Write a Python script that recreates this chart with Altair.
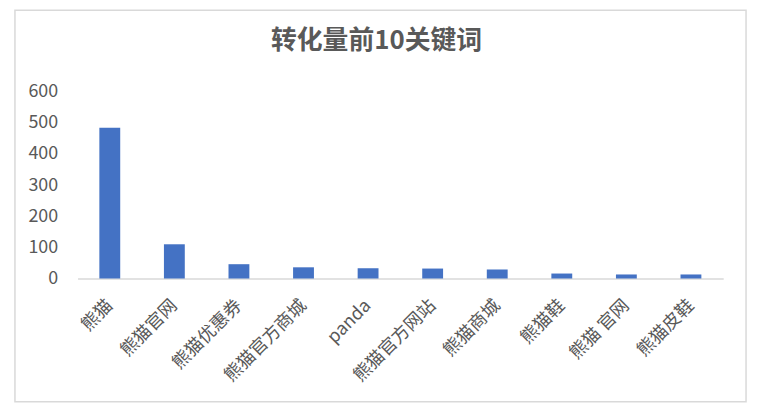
import altair as alt
import pandas as pd

keywords = ["熊猫", "熊猫官网", "熊猫优惠券", "熊猫官方商城", "panda",
            "熊猫官方网站", "熊猫商城", "熊猫鞋", "熊猫 官网", "熊猫皮鞋"]
conversions = [484, 110, 46, 36, 33, 32, 29, 16, 13, 13]
y_ticks = [0, 100, 200, 300, 400, 500, 600]

title_text = "转化量前10关键词"
FONT = "Noto Sans CJK SC"
GRAY = "#595959"

df = pd.DataFrame({"keyword": keywords, "value": conversions})

bars = alt.Chart(df).mark_bar(color="#4472C4").encode(
    x=alt.X("keyword:N", sort=keywords,
            scale=alt.Scale(paddingInner=0.677, paddingOuter=0.338),
            axis=alt.Axis(title=None, labelAngle=-45, labelFontSize=18,
                          labelColor=GRAY, labelFont=FONT, ticks=False,
                          tickSize=0, labelPadding=18, labelOffset=-6,
                          domainColor="#d9d9d9", domainWidth=1.5)),
    y=alt.Y("value:Q", scale=alt.Scale(domain=[0, 600]),
            axis=alt.Axis(title=None, values=y_ticks, grid=False, domain=False,
                          ticks=False, tickSize=0, labelFontSize=18,
                          labelColor=GRAY, labelFont=FONT, labelPadding=20)),
)

border = alt.Chart(pd.DataFrame({"k": [0]})).mark_rect(
    fill="transparent", stroke="#d9d9d9", strokeWidth=1.5
).encode(
    x=alt.value(-63), x2=alt.value(673), y=alt.value(-82), y2=alt.value(312)
)

chart = alt.layer(border, bars).properties(
    width=650, height=188,
    padding={"left": 70, "top": 83, "right": 30, "bottom": 125},
    autosize=alt.AutoSizeParams(type="none"),
    background="white",
    title=alt.TitleParams(title_text, anchor="middle", frame="group", dx=-24,
                          offset=-45, fontSize=26, fontWeight="bold",
                          color=GRAY, font=FONT),
).configure_view(stroke=None)

chart.save("out.html", embed_options={"renderer": "svg", "actions": False})
